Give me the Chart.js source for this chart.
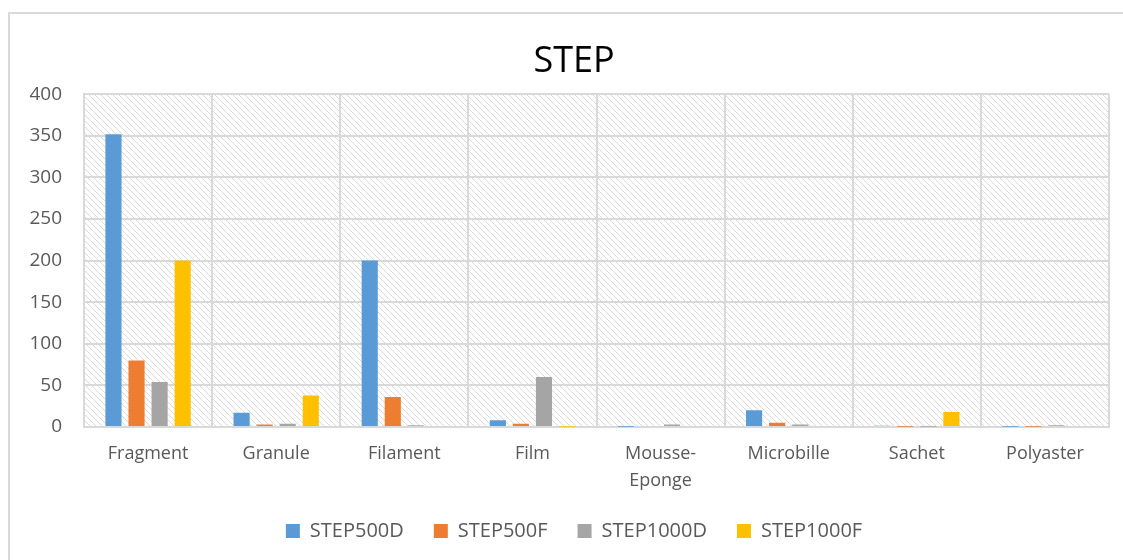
<!DOCTYPE html>
<html>
<head>
<meta charset="utf-8">
<script src="https://cdn.jsdelivr.net/npm/chart.js@4"></script>
<style>
  html, body { margin: 0; padding: 0; background: #fff; overflow: hidden; }
  #wrap { position: relative; width: 1148px; height: 560px; }
  #frame { position: absolute; left: 8px; top: 12px; width: 1160px; height: 580px; border: 2px solid #d9d9d9; box-sizing: border-box; }
</style>
</head>
<body>
<div id="wrap">
  <div id="frame"></div>
  <canvas id="myChart"></canvas>
</div>
<script>
const categories = ["Fragment", "Granule", "Filament", "Film", ["Mousse-", "Eponge"], "Microbille", "Sachet", "Polyaster"];
const seriesNames = ["STEP500D", "STEP500F", "STEP1000D", "STEP1000F"];
const step500D = [352, 17, 200, 8, 0.3, 20, 1.5, 0.3];
const step500F = [80, 3, 36, 4, 0, 5, 0.3, 0.3];
const step1000D = [54, 4, 2, 60, 3, 3, 0.3, 2];
const step1000F = [200, 38, 0, 0.3, 0, 0, 18, 0];
const yTicks = [0, 50, 100, 150, 200, 250, 300, 350, 400];

const colors = ["#5B9BD5", "#ED7D31", "#A5A5A5", "#FFC000"];
const values = [step500D, step500F, step1000D, step1000F];
const font = "'Open Sans', sans-serif";

// diagonal hatch behind the bars
const hatch = {
  id: "hatch",
  beforeDraw(chart) {
    const { ctx, chartArea: a } = chart;
    const tile = document.createElement("canvas");
    tile.width = tile.height = 6;
    const t = tile.getContext("2d");
    t.strokeStyle = "#dadada";
    t.lineWidth = 1;
    t.beginPath();
    t.moveTo(0, 0); t.lineTo(6, 6);
    t.moveTo(-3, 3); t.lineTo(3, 9);
    t.moveTo(3, -3); t.lineTo(9, 3);
    t.stroke();
    ctx.save();
    ctx.fillStyle = ctx.createPattern(tile, "repeat");
    ctx.fillRect(a.left, a.top, a.right - a.left, a.bottom - a.top);
    ctx.restore();
  }
};

const chartData = {
  labels: categories,
  datasets: seriesNames.map((name, i) => ({
    label: name,
    data: values[i],
    backgroundColor: colors[i],
    borderWidth: 0,
    categoryPercentage: 0.72,
    barPercentage: 0.7
  }))
};

const ctx = document.getElementById("myChart").getContext("2d");
const chart = new Chart(ctx, {
  type: "bar",
  data: chartData,
  plugins: [hatch],
  options: {
    responsive: true,
    maintainAspectRatio: false,
    animation: false,
    layout: { padding: { left: 0, right: 0, top: 0, bottom: 9 } },
    plugins: {
      title: {
        display: true,
        text: "STEP",
        color: "#000",
        font: { family: font, size: 36, weight: "normal" },
        padding: { top: 40, bottom: 11 }
      },
      legend: {
        position: "bottom",
        labels: {
          color: "#595959",
          font: { family: font, size: 20 },
          boxWidth: 14,
          boxHeight: 14,
          padding: 30
        }
      },
      tooltip: { enabled: false }
    },
    scales: {
      x: {
        grid: { color: "#d9d9d9", lineWidth: 2, drawTicks: false, offset: true },
        border: { color: "#d9d9d9", width: 2 },
        ticks: {
          color: "#595959",
          font: { family: font, size: 18, lineHeight: 1.5 },
          padding: 13,
          maxRotation: 0,
          autoSkip: false
        },
        afterFit(scale) { scale.height = 64; }
      },
      y: {
        min: 0,
        max: 400,
        afterBuildTicks(scale) { scale.ticks = yTicks.map(v => ({ value: v })); },
        grid: { color: "#d9d9d9", lineWidth: 2, drawTicks: false },
        border: { color: "#d9d9d9", width: 2 },
        ticks: {
          color: "#595959",
          font: { family: font, size: 19 },
          padding: 22
        },
        afterFit(scale) { scale.width = 84; }
      },
      // empty right-hand margin so the title and legend centre on the whole frame
      side: {
        type: "linear",
        position: "right",
        grid: { display: false },
        border: { display: false },
        ticks: { display: false },
        afterFit(scale) { scale.width = 39; }
      }
    }
  }
});
</script>
</body>
</html>
